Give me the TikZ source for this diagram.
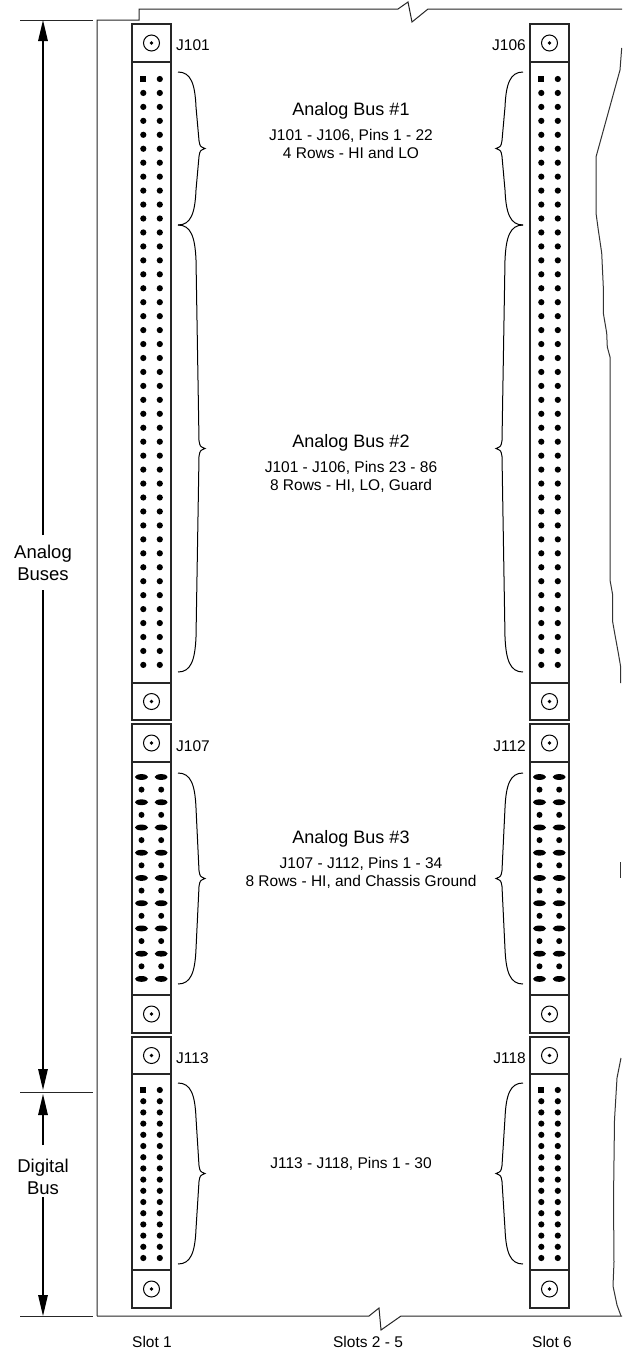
\documentclass[tikz,border=0pt]{standalone}
\usepackage{fontspec}
\setmainfont{Liberation Sans}
\usetikzlibrary{arrows.meta}
\tikzset{
  frameline/.style={line width=1pt, draw=black!85},
  box/.style={draw=black!85, line width=1.2pt},
  ring/.style={draw=black, line width=1pt},
  bracecurve/.style={draw=black, line width=1pt},
  breakline/.style={draw=black!80, line width=1pt},
  dimline/.style={draw=black, line width=1.5pt},
  dimtip/.style={dimline, -{Triangle[length=21pt,width=9.5pt]}},
  jlabel/.style={font=\fontsize{15.5}{17}\selectfont, inner sep=0pt},
  bustitle/.style={font=\fontsize{18}{20}\selectfont, inner sep=0pt, anchor=base},
  bussub/.style={font=\fontsize{15.5}{17}\selectfont, inner sep=0pt, anchor=base},
  sidelabel/.style={font=\fontsize{18.5}{21.5}\selectfont, align=center, inner sep=0pt},
  slotlabel/.style={font=\fontsize{15.5}{17}\selectfont, inner sep=0pt, anchor=base},
}
% connector outline: #1 cx, #2 top, #3 ear1 bottom, #4 pin bottom, #5 bottom
\newcommand\drawconnector[5]{%
  \draw[box] ({#1-19.5},#2) rectangle ({#1+19.5},#5);
  \draw[box] ({#1-19.5},#3) -- ({#1+19.5},#3);
  \draw[box] ({#1-19.5},#4) -- ({#1+19.5},#4);
  \draw[ring] (#1,{(#2+#3)/2}) circle (8pt);
  \fill (#1,{(#2+#3)/2}) circle (1.8pt);
  \draw[ring] (#1,{(#4+#5)/2}) circle (8pt);
  \fill (#1,{(#4+#5)/2}) circle (1.8pt);
}
% round pins with square pin 1: #1 cx, #2 first y, #3 pitch, #4 last index
\newcommand\roundpins[4]{%
  \fill ({#1-8.2-2.9},{#2-2.9}) rectangle ({#1-8.2+2.9},{#2+2.9});
  \fill ({#1+8.3},#2) circle (3.1pt);
  \foreach \i in {1,...,#4}{%
    \fill ({#1-8.2},{#2+\i*#3}) circle (3.1pt);
    \fill ({#1+8.3},{#2+\i*#3}) circle (3.1pt);
  }%
}
% alternating oval / round pins: #1 cx, #2 first y, #3 pitch
\newcommand\ovalpins[3]{%
  \foreach \i in {0,2,...,16}{%
    \fill ({#1-10},{#2+\i*#3}) ellipse [x radius=6.5pt, y radius=2.9pt];
    \fill ({#1+9.7},{#2+\i*#3}) ellipse [x radius=6.5pt, y radius=2.9pt];
  }%
  \foreach \i in {1,3,...,15}{%
    \fill ({#1-10},{#2+\i*#3}) circle (3pt);
    \fill ({#1+9.7},{#2+\i*#3}) circle (3pt);
  }%
}
% curly brace: #1 base x, #2 y1, #3 y2, #4 direction (1 right, -1 left)
\newcommand\curlybrace[4]{%
  \draw[bracecurve] (#1,#2)
    .. controls ({#1+#4*13},#2) and ({#1+#4*17},{#2+12}) .. ({#1+#4*18},{#2+35})
    -- ({#1+#4*21},{(#2+#3)/2-8})
    .. controls ({#1+#4*22},{(#2+#3)/2-2}) .. ({#1+#4*27},{(#2+#3)/2})
    .. controls ({#1+#4*22},{(#2+#3)/2+2}) .. ({#1+#4*21},{(#2+#3)/2+8})
    -- ({#1+#4*18},{#3-35})
    .. controls ({#1+#4*17},{#3-12}) and ({#1+#4*13},#3) .. (#1,#3);
}
\begin{document}
\begin{tikzpicture}[x=1pt,y=-1pt]
\useasboundingbox[fill=white] (0,0) rectangle (622,1355);

% ---- frame ----
\draw[frameline] (97,1316) -- (97,20) -- (139,20) -- (139,9) -- (398,9)
  -- (408,2) -- (412,22) -- (428,9) -- (622,9);
\draw[frameline] (97,1316) -- (369,1316) -- (379,1308) -- (381,1330)
  -- (401,1316) -- (622,1316);

% ---- right break lines ----
\draw[breakline] (621.7,48) -- (620,70) -- (596,157) -- (596,213) -- (598.3,230)
  -- (601.7,253) -- (603.3,287) -- (603.3,313) -- (606.7,333) -- (607.3,347)
  -- (610,357) -- (610,580) -- (612.7,595) -- (612.7,622) -- (615,635)
  -- (618.3,653) -- (620.7,667) -- (620.7,683);
\draw[breakline] (620.5,862) -- (620.5,878);
\draw[breakline] (621,1058) -- (617,1078) -- (614.5,1120) -- (613.5,1200)
  -- (614,1262) -- (613,1286) -- (617,1305) -- (621,1316);

% ---- dimension lines ----
\draw[frameline] (20,20) -- (93,20);
\draw[frameline] (20,1092) -- (93,1092);
\draw[frameline] (20,1316) -- (93,1316);
\coordinate (aTop) at (43,20);
\coordinate (aGapT) at (43,535);
\coordinate (aGapB) at (43,590);
\coordinate (aBot) at (43,1090);
\coordinate (dTop) at (43,1094);
\coordinate (dGapT) at (43,1145);
\coordinate (dGapB) at (43,1197);
\coordinate (dBot) at (43,1316);
\draw[dimtip] (aGapT) -- (aTop);
\draw[dimtip] (aGapB) -- (aBot);
\draw[dimtip] (dGapT) -- (dTop);
\draw[dimtip] (dGapB) -- (dBot);
\node[sidelabel] (lblAnalog) at (43,563) {Analog\\Buses};
\node[sidelabel] (lblDigital) at (43,1177) {Digital\\Bus};

% ---- connectors, slot 1 ----
\drawconnector{151.5}{24}{62}{683}{720}
\roundpins{151.5}{79}{13.95}{42}
\drawconnector{151.5}{724}{762}{995}{1033}
\ovalpins{151.5}{777}{12.62}
\drawconnector{151.5}{1037}{1074}{1270}{1308}
\roundpins{151.5}{1090}{11.2}{15}

% ---- connectors, slot 6 ----
\drawconnector{549.5}{24}{62}{683}{720}
\roundpins{549.5}{79}{13.95}{42}
\drawconnector{549.5}{724}{762}{995}{1033}
\ovalpins{549.5}{777}{12.62}
\drawconnector{549.5}{1037}{1074}{1270}{1308}
\roundpins{549.5}{1090}{11.2}{15}

% ---- connector labels ----
\node[jlabel, anchor=base west] (j101) at (176,50) {J101};
\node[jlabel, anchor=base east] (j106) at (526,50) {J106};
\node[jlabel, anchor=base west] (j107) at (176,751) {J107};
\node[jlabel, anchor=base east] (j112) at (526,751) {J112};
\node[jlabel, anchor=base west] (j113) at (176,1063) {J113};
\node[jlabel, anchor=base east] (j118) at (526,1063) {J118};

% ---- braces ----
\curlybrace{178}{72}{225}{1}
\curlybrace{178}{225}{672}{1}
\curlybrace{178}{773}{984}{1}
\curlybrace{178}{1083}{1264}{1}
\curlybrace{523}{72}{225}{-1}
\curlybrace{523}{225}{672}{-1}
\curlybrace{523}{773}{984}{-1}
\curlybrace{523}{1083}{1264}{-1}

% ---- bus descriptions ----
\node[bustitle] (bus1) at (351,115) {Analog Bus \#1};
\node[bussub] (bus1a) at (351,140) {J101 - J106, Pins 1 - 22};
\node[bussub] (bus1b) at (351,158) {4 Rows - HI and LO};
\node[bustitle] (bus2) at (351,447) {Analog Bus \#2};
\node[bussub] (bus2a) at (351,472) {J101 - J106, Pins 23 - 86};
\node[bussub] (bus2b) at (351,490) {8 Rows - HI, LO, Guard};
\node[bustitle] (bus3) at (351,843) {Analog Bus \#3};
\node[bussub] (bus3a) at (361,868) {J107 - J112, Pins 1 - 34};
\node[bussub] (bus3b) at (361,886) {8 Rows - HI, and Chassis Ground};
\node[bussub] (dbus) at (351,1168) {J113 - J118, Pins 1 - 30};

% ---- slot labels ----
\node[slotlabel] (slot1) at (152,1347) {Slot 1};
\node[slotlabel] (slot25) at (368,1347) {Slots 2 - 5};
\node[slotlabel] (slot6) at (552,1347) {Slot 6};
\end{tikzpicture}
\end{document}
